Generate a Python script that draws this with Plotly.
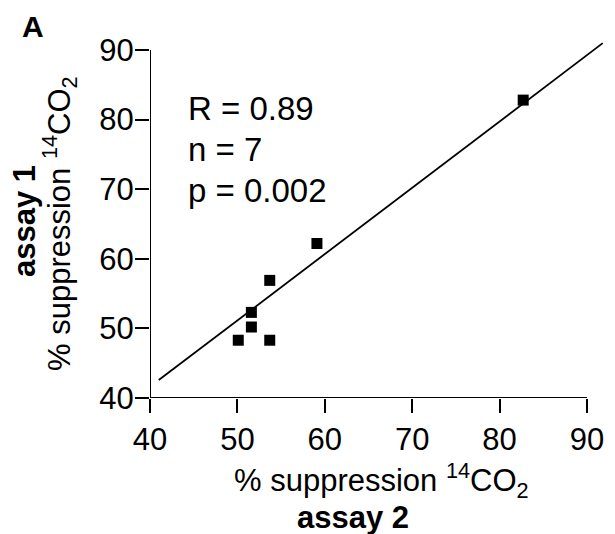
import plotly.graph_objects as go

# ---- data ----
assay2 = [82.7, 59.1, 53.7, 51.6, 51.6, 50.1, 53.7]   # x values (% suppression, assay 2)
assay1 = [82.8, 62.2, 56.9, 52.3, 50.2, 48.3, 48.3]   # y values (% suppression, assay 1)
fit_slope = 0.953
fit_intercept = 3.5
fit_x = [41.0, 91.8]
fit_y = [fit_intercept + fit_slope * v for v in fit_x]
tick_vals = [40, 50, 60, 70, 80, 90]
stats_lines = ["R = 0.89", "n = 7", "p = 0.002"]

FONT = "Liberation Sans, Arial, sans-serif"
OFF = 8  # page body margin
W, H = 615 - OFF, 534 - OFF
L, T = 150 - OFF, 41 - OFF
PW, PH = 455, 357
R = W - L - PW
B = H - T - PH

def px(x):
    return (x - OFF - L) / PW

def py(y):
    return 1 - (y - OFF - T) / PH

fig = go.Figure()
fig.add_trace(go.Scatter(x=fit_x, y=fit_y, mode="lines",
                         line=dict(color="black", width=1.8), showlegend=False, hoverinfo="skip"))
fig.add_trace(go.Scatter(x=assay2, y=assay1, mode="markers",
                         marker=dict(symbol="square", size=11, color="black"), showlegend=False))

xr = [40, 40 + PW / 8.74]
yr = [40, 40 + PH / 6.96]

axis_common = dict(showgrid=False, zeroline=False, showline=False, ticks="outside",
                   ticklen=14, tickwidth=2, tickcolor="black",
                   tickvals=tick_vals, ticktext=[str(v) for v in tick_vals],
                   tickfont=dict(family=FONT, size=31, color="black"), automargin=False)
fig.update_xaxes(range=xr, **axis_common)
fig.update_yaxes(range=yr, ticklabelstandoff=-5, **axis_common)

# axis lines spanning 40..90 only
fig.add_shape(type="line", xref="x", yref="y", x0=tick_vals[0], x1=tick_vals[-1], y0=tick_vals[0], y1=tick_vals[0],
              line=dict(color="black", width=2))
fig.add_shape(type="line", xref="x", yref="y", x0=tick_vals[0], x1=tick_vals[0], y0=tick_vals[0], y1=tick_vals[-1],
              line=dict(color="black", width=2))

ann = []
for t, yy in zip(stats_lines, [108, 149, 190]):
    ann.append(dict(text=t, xref="paper", yref="paper", x=px(186), y=py(yy), xanchor="left", yanchor="middle",
                    showarrow=False, font=dict(family=FONT, size=33, color="black")))
ann.append(dict(text="<b>A</b>", xref="paper", yref="paper", x=px(20), y=py(27), xanchor="left", yanchor="middle",
                showarrow=False, font=dict(family=FONT, size=30, color="black")))
ann.append(dict(text="% suppression <sup>14</sup>CO<sub>2</sub>", xref="paper", yref="paper", x=px(381), y=py(480),
                xanchor="center", yanchor="middle", showarrow=False, font=dict(family=FONT, size=31, color="black")))
ann.append(dict(text="<b>assay 2</b>", xref="paper", yref="paper", x=px(353), y=py(518),
                xanchor="center", yanchor="middle", showarrow=False, font=dict(family=FONT, size=31, color="black")))
ann.append(dict(text="% suppression <sup>14</sup>CO<sub>2</sub>", xref="paper", yref="paper", x=px(60), y=py(224),
                xanchor="center", yanchor="middle", textangle=-90, showarrow=False,
                font=dict(family=FONT, size=31, color="black")))
ann.append(dict(text="<b>assay 1</b>", xref="paper", yref="paper", x=px(24), y=py(221),
                xanchor="center", yanchor="middle", textangle=-90, showarrow=False,
                font=dict(family=FONT, size=31, color="black")))

fig.update_layout(width=W, height=H, margin=dict(l=L, r=R, t=T, b=B),
                  plot_bgcolor="white", paper_bgcolor="white", annotations=ann,
                  font=dict(family=FONT, color="black"))

fig.write_html("out.html")
